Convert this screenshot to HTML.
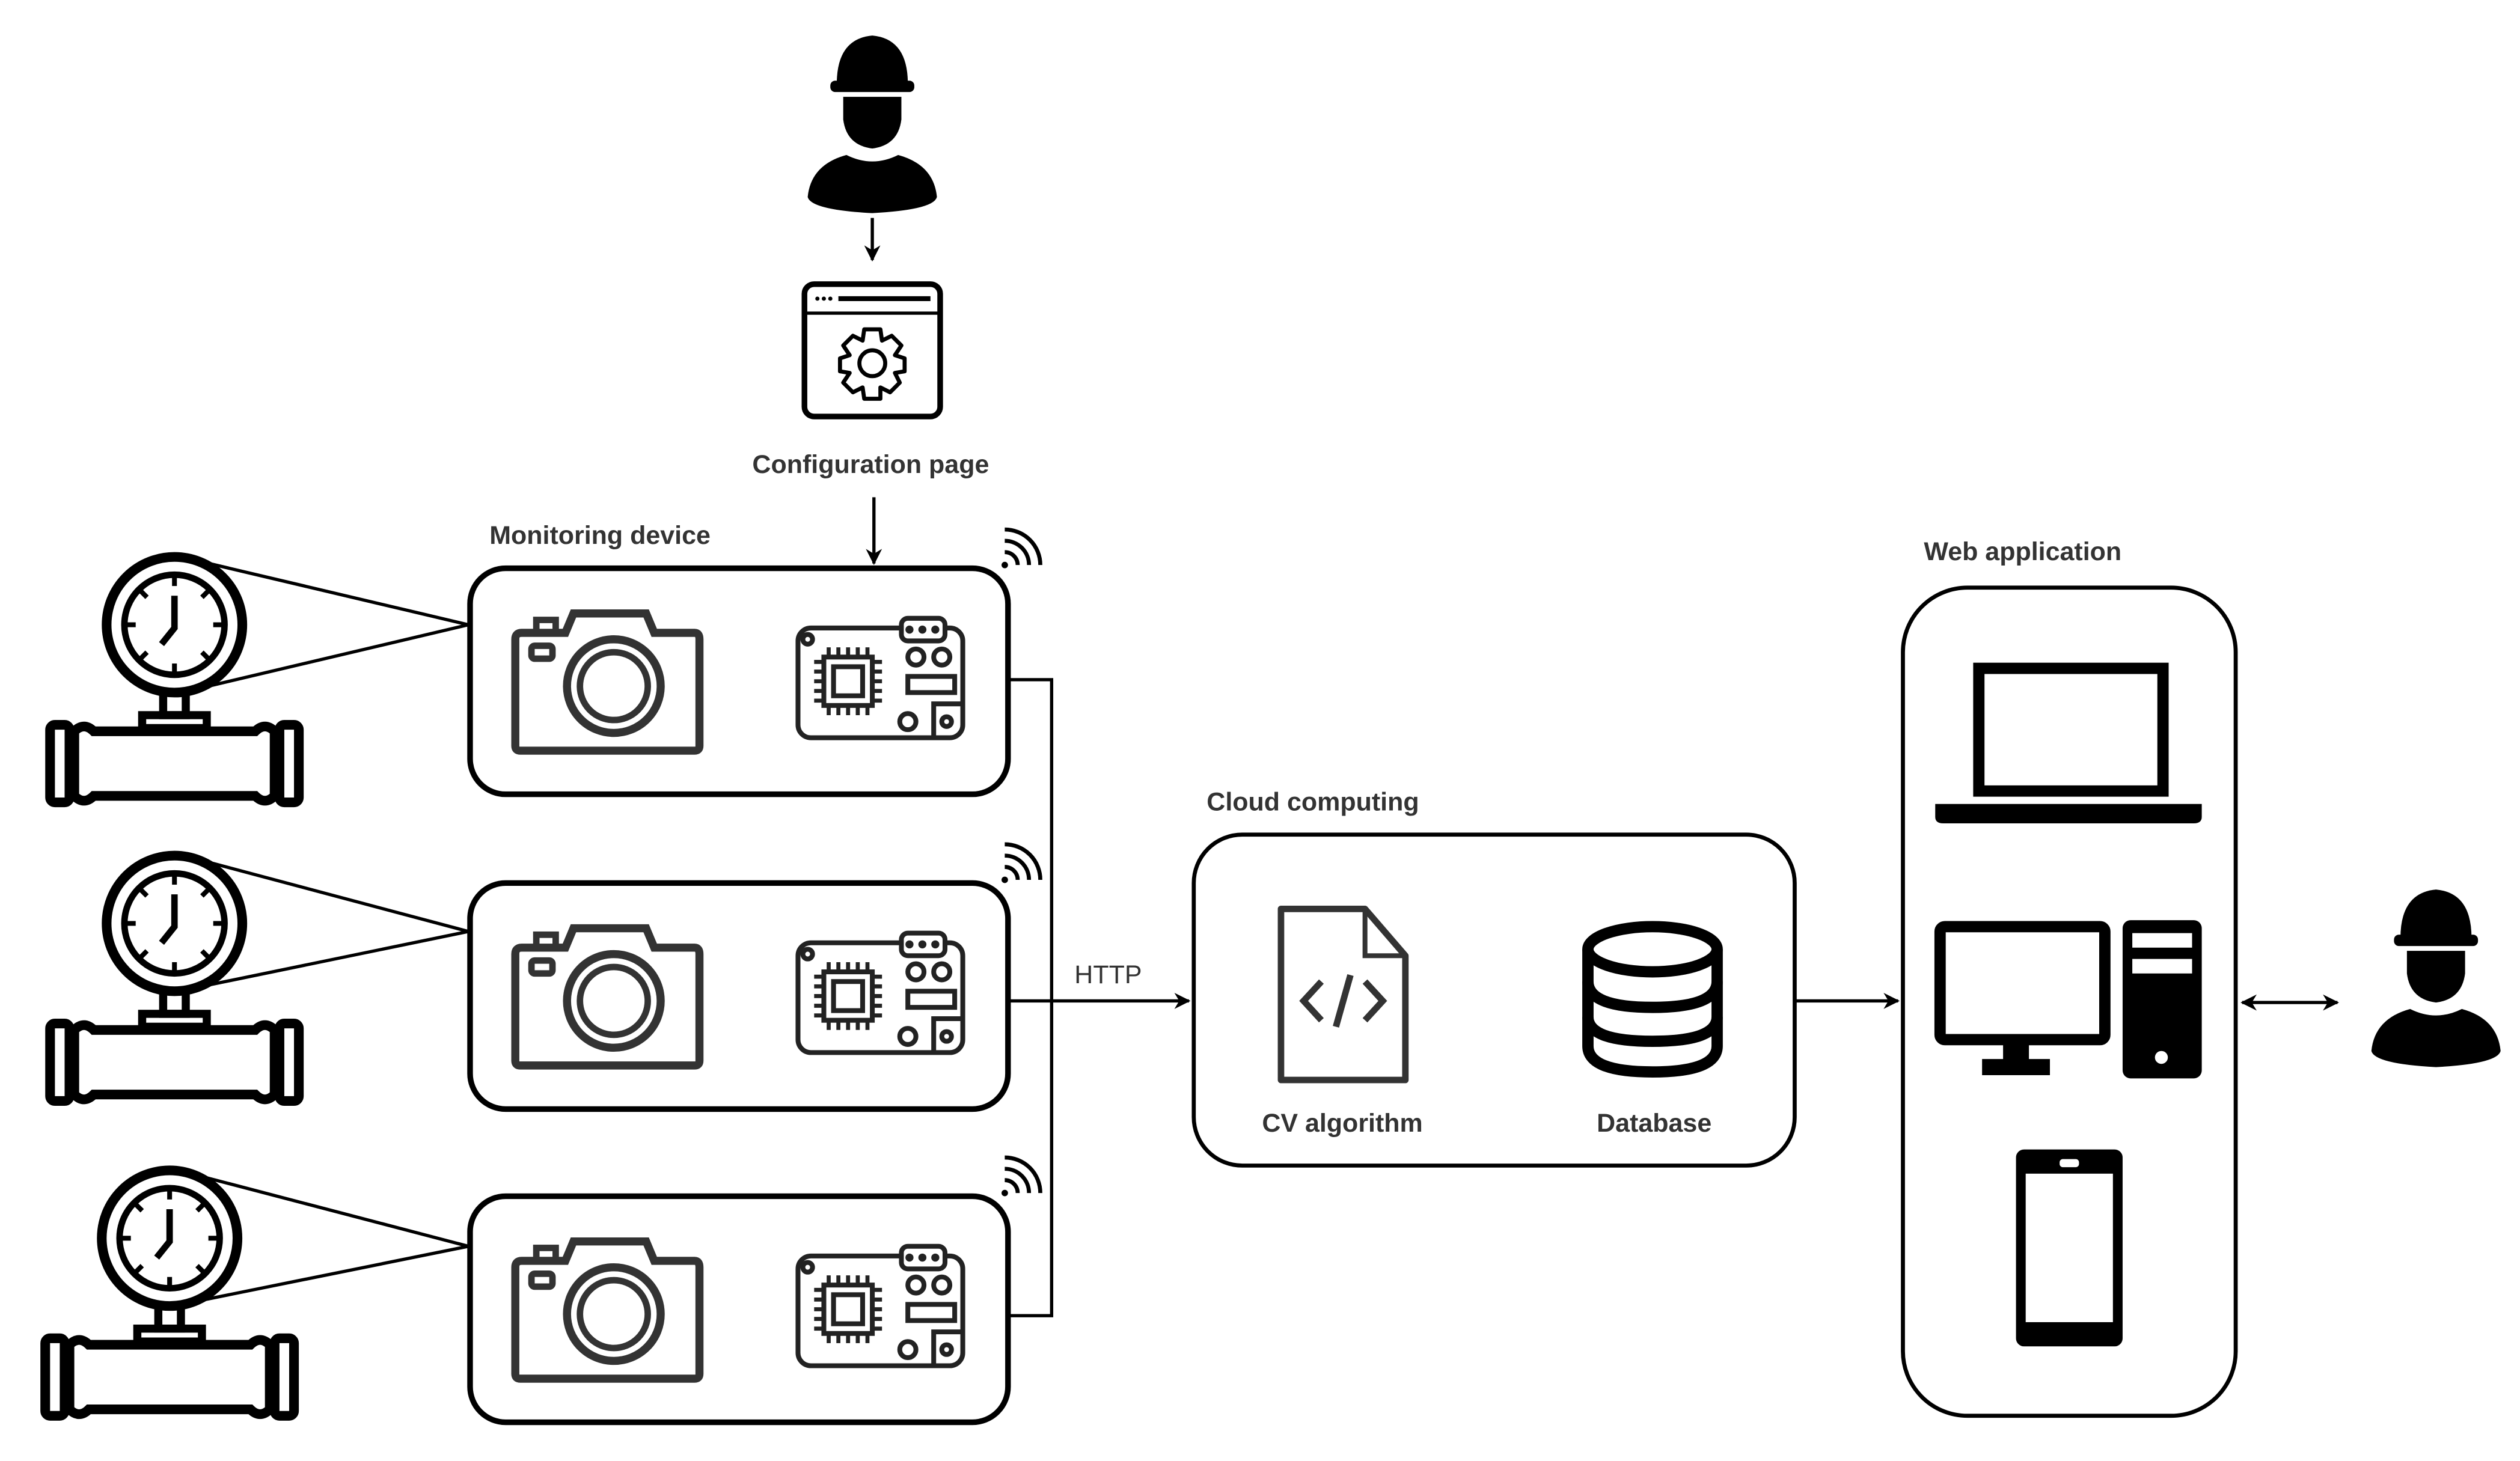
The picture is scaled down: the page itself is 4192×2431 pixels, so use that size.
<!DOCTYPE html>
<html><head><meta charset="utf-8"><style>
html,body{margin:0;padding:0;background:#fff}
svg{display:block}
text{font-family:"Liberation Sans",sans-serif;font-weight:bold;fill:#333;font-size:16px}
</style></head><body>
<svg width="4192" height="2431" viewBox="0 0 1560 905" preserveAspectRatio="none" xmlns="http://www.w3.org/2000/svg">
<defs>
<marker id="ah" viewBox="0 0 10 10" refX="9" refY="5" markerWidth="5" markerHeight="5" orient="auto-start-reverse"><path d="M0,0 L10,5 L0,10 L3,5 z" fill="#000"/></marker>
<g id="worker">
<path d="M-22,-44 Q-22,-72 0,-74 Q22,-72 22,-44 Z" fill="#000"/>
<rect x="-26" y="-46" width="52" height="7" rx="3" fill="#000"/>
<path d="M-18,-36 L18,-36 L18,-22 Q16,-6 0,-4 Q-16,-6 -18,-22 Z" fill="#000"/>
<path d="M-16,0 Q0,8 16,0 Q38,6 40,26 Q38,34 0,36 Q-38,34 -40,26 Q-38,6 -16,0 Z" fill="#000"/>
</g>
<g id="gauge" fill="none" stroke="#000">
<circle cx="0" cy="0" r="42" stroke-width="6"/>
<circle cx="0" cy="0" r="31" stroke-width="4"/>
<g stroke-width="3">
<line x1="0" y1="-31" x2="0" y2="-24"/><line x1="0" y1="31" x2="0" y2="24"/>
<line x1="-31" y1="0" x2="-24" y2="0"/><line x1="31" y1="0" x2="24" y2="0"/>
<line x1="22" y1="-22" x2="17" y2="-17"/><line x1="-22" y1="-22" x2="-17" y2="-17"/>
<line x1="22" y1="22" x2="17" y2="17"/><line x1="-22" y1="22" x2="-17" y2="17"/>
<polyline points="0,-18 0,2 -8,12" stroke-width="4"/>
</g>
<rect x="-7" y="42" width="14" height="14" stroke-width="5"/>
<rect x="-20" y="56" width="40" height="8" stroke-width="5"/>
<path d="M-62,66 Q-56,60 -50,66 L50,66 Q56,60 62,66 L62,106 Q56,112 50,106 L-50,106 Q-56,112 -62,106 Z" stroke-width="6"/>
<rect x="-77" y="62" width="12" height="48" rx="3" stroke-width="6"/>
<rect x="65" y="62" width="12" height="48" rx="3" stroke-width="6"/>
</g>
<g id="camera" fill="none" stroke="#333" stroke-width="5">
<path d="M323,392 L350,392 L355,380 L400,380 L405,392 L430,392 Q433,392 433,396 L433,462 Q433,465 430,465 L322,465 Q319,465 319,462 L319,396 Q319,392 323,392 Z"/>
<rect x="332" y="384" width="12" height="8" stroke-width="4"/>
<rect x="329" y="400" width="13" height="8" rx="2" stroke-width="4"/>
<circle cx="380" cy="425" r="29"/>
<circle cx="380" cy="425" r="21" stroke-width="4"/>
</g>
<g id="board" fill="none" stroke="#222" stroke-width="3">
<rect x="494" y="389" width="102" height="68" rx="8"/>
<rect x="558" y="383" width="27" height="14" rx="4" fill="#fff"/>
<circle cx="563" cy="390" r="1" fill="#222"/><circle cx="571" cy="390" r="1" fill="#222"/><circle cx="579" cy="390" r="1" fill="#222"/>
<circle cx="500" cy="396" r="3"/>
<rect x="510" y="407" width="30" height="30"/>
<rect x="516" y="413" width="18" height="18"/>
<path d="M513,401v6M519,401v6M525,401v6M531,401v6M537,401v6M513,437v6M519,437v6M525,437v6M531,437v6M537,437v6M504,410h6M504,416h6M504,422h6M504,428h6M504,434h6M540,410h6M540,416h6M540,422h6M540,428h6M540,434h6" stroke-width="2.5"/>
<circle cx="567" cy="407" r="5"/><circle cx="583" cy="407" r="5"/>
<rect x="562" y="419" width="29" height="10"/>
<circle cx="562" cy="447" r="5"/>
<path d="M578,457 L578,436 L596,436"/>
<circle cx="586" cy="447" r="3"/>
</g>
<g id="wifi" fill="none" stroke="#000" stroke-width="2.5">
<circle cx="622" cy="350" r="2" fill="#000" stroke="none"/>
<path d="M622,342 A8,8 0 0 1 630,350"/>
<path d="M622,335 A15,15 0 0 1 637,350"/>
<path d="M622,328 A22,22 0 0 1 644,350"/>
</g>
<g id="device">
<rect x="291" y="352" width="333" height="140" rx="22" fill="#fff" stroke="#000" stroke-width="3.5"/>
<use href="#camera"/><use href="#board"/><use href="#wifi"/>
</g>
</defs>

<!-- top worker -->
<use href="#worker" x="540" y="96"/>
<line x1="540" y1="135" x2="540" y2="161" stroke="#000" stroke-width="2" marker-end="url(#ah)"/>
<!-- config page -->
<rect x="498" y="176" width="84" height="82" rx="6" fill="none" stroke="#000" stroke-width="3.5"/>
<line x1="498" y1="194" x2="582" y2="194" stroke="#000" stroke-width="2"/>
<circle cx="506" cy="185" r="1.3"/><circle cx="510" cy="185" r="1.3"/><circle cx="514" cy="185" r="1.3"/>
<line x1="519" y1="185" x2="576" y2="185" stroke="#000" stroke-width="3"/>
<path d="M535,204 L545,204 L546,211 L552,208 L558,214 L554,220 L560,222 L560,230 L554,231 L557,237 L551,243 L545,240 L545,247 L535,247 L534,240 L528,243 L522,237 L526,231 L520,230 L520,222 L526,220 L522,214 L528,208 L534,211 Z" fill="none" stroke="#000" stroke-width="2.5" stroke-linejoin="round"/>
<circle cx="540" cy="225" r="8" fill="none" stroke="#000" stroke-width="2.5"/>
<text x="539" y="293" text-anchor="middle">Configuration page</text>
<line x1="541" y1="308" x2="541" y2="349" stroke="#000" stroke-width="2" marker-end="url(#ah)"/>
<text x="303" y="337">Monitoring device</text>

<!-- devices -->
<use href="#device"/>
<use href="#device" y="195"/>
<use href="#device" y="389"/>

<!-- gauges -->
<use href="#gauge" x="108" y="387"/>
<use href="#gauge" x="108" y="572"/>
<use href="#gauge" x="105" y="767"/>
<g stroke="#000" stroke-width="2">
<line x1="125" y1="348" x2="290" y2="387"/><line x1="125" y1="426" x2="290" y2="387"/>
<line x1="125" y1="533" x2="290" y2="577"/><line x1="125" y1="611" x2="290" y2="577"/>
<line x1="122" y1="728" x2="290" y2="772"/><line x1="122" y1="806" x2="290" y2="772"/>
</g>

<!-- connectors -->
<polyline points="625,421 651,421 651,815 625,815" fill="none" stroke="#000" stroke-width="2"/>
<line x1="625" y1="620" x2="736" y2="620" stroke="#000" stroke-width="2" marker-end="url(#ah)"/>
<text x="686" y="609" text-anchor="middle" style="font-weight:normal">HTTP</text>

<!-- cloud -->
<text x="747" y="502">Cloud computing</text>
<rect x="739" y="517" width="372" height="205" rx="30" fill="none" stroke="#000" stroke-width="2.5"/>
<path d="M793,563 L845,563 L870,592 L870,669 L793,669 Z" fill="none" stroke="#333" stroke-width="4" stroke-linejoin="round"/>
<path d="M845,563 L845,592 L870,592" fill="none" stroke="#333" stroke-width="3"/>
<path d="M818,608 L807,620 L818,632 M845,608 L856,620 L845,632 M836,604 L827,636" fill="none" stroke="#333" stroke-width="4"/>
<text x="831" y="701" text-anchor="middle">CV algorithm</text>
<g fill="none" stroke="#000" stroke-width="7">
<ellipse cx="1023" cy="588" rx="40" ry="14"/>
<path d="M983,588 L983,648 Q983,664 1023,664 Q1063,664 1063,648 L1063,588"/>
<path d="M983,608 Q983,624 1023,624 Q1063,624 1063,608"/>
<path d="M983,630 Q983,645 1023,645 Q1063,645 1063,630"/>
</g>
<text x="1024" y="701" text-anchor="middle">Database</text>
<line x1="1111" y1="620" x2="1175" y2="620" stroke="#000" stroke-width="2" marker-end="url(#ah)"/>

<!-- web app -->
<text x="1191" y="347">Web application</text>
<rect x="1178" y="364" width="206" height="513" rx="40" fill="none" stroke="#000" stroke-width="2.5"/>
<rect x="1225" y="414" width="114" height="76" fill="none" stroke="#000" stroke-width="7"/>
<path d="M1198,498 L1363,498 L1363,506 Q1363,510 1358,510 L1203,510 Q1198,510 1198,506 Z" fill="#000"/>
<rect x="1201" y="574" width="102" height="70" rx="3" fill="none" stroke="#000" stroke-width="7"/>
<rect x="1240" y="647" width="16" height="12" fill="#000"/>
<rect x="1227" y="656" width="42" height="10" fill="#000"/>
<rect x="1314" y="570" width="49" height="98" rx="5" fill="#000"/>
<rect x="1320" y="578" width="37" height="9" fill="#fff"/>
<rect x="1320" y="594" width="37" height="9" fill="#fff"/>
<circle cx="1338" cy="655" r="4" fill="#fff"/>
<rect x="1251" y="715" width="60" height="116" rx="2" fill="none" stroke="#000" stroke-width="6"/>
<rect x="1251" y="715" width="60" height="12" fill="#000"/>
<rect x="1275" y="718" width="12" height="5" rx="2" fill="#fff"/>
<rect x="1251" y="819" width="60" height="12" fill="#000"/>
<line x1="1388" y1="621" x2="1447" y2="621" stroke="#000" stroke-width="2" marker-start="url(#ah)" marker-end="url(#ah)"/>
<use href="#worker" x="1508" y="625" transform="translate(1508 625) scale(1) translate(-1508 -625)"/>
</svg>
</body></html>
